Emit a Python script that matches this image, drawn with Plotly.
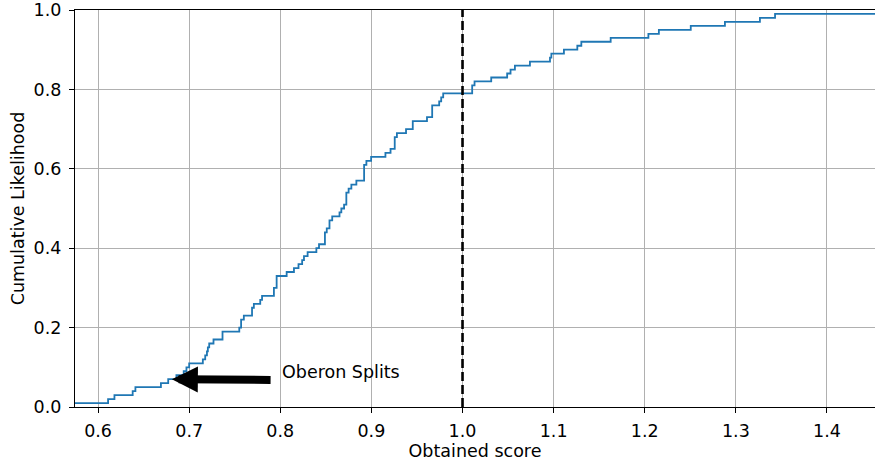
import plotly.graph_objects as go

# Step locations (obtained score) and cumulative likelihood level after each step
scores = [0.560, 0.611, 0.618, 0.638, 0.641, 0.669, 0.677, 0.686, 0.694, 0.697,
          0.700, 0.715, 0.7176, 0.7195, 0.7205, 0.722, 0.7267, 0.7366, 0.755, 0.757,
          0.760, 0.769, 0.771, 0.778, 0.780, 0.793, 0.796, 0.807, 0.815, 0.820,
          0.824, 0.826, 0.830, 0.8396, 0.8425, 0.849, 0.851, 0.854, 0.857, 0.865,
          0.867, 0.870, 0.8725, 0.875, 0.878, 0.8835, 0.892, 0.8945, 0.8997, 0.9154,
          0.921, 0.9256, 0.928, 0.938, 0.9454, 0.961, 0.9667, 0.9744, 0.9766, 0.9788,
          1.0106, 1.0132, 1.0315, 1.049, 1.0527, 1.0575, 1.074, 1.096, 1.0975, 1.1113,
          1.126, 1.1304, 1.1626, 1.2040, 1.2155, 1.2505, 1.288, 1.3264, 1.343, 1.470]
likelihood = [0.01, 0.02, 0.03, 0.04, 0.05, 0.06, 0.07, 0.08, 0.09, 0.10,
              0.11, 0.12, 0.13, 0.14, 0.15, 0.16, 0.17, 0.19, 0.20, 0.22,
              0.23, 0.25, 0.26, 0.27, 0.28, 0.30, 0.33, 0.34, 0.35, 0.36,
              0.37, 0.38, 0.39, 0.40, 0.41, 0.44, 0.45, 0.47, 0.48, 0.49,
              0.50, 0.51, 0.54, 0.55, 0.56, 0.57, 0.61, 0.62, 0.63, 0.64,
              0.65, 0.68, 0.69, 0.70, 0.72, 0.73, 0.76, 0.77, 0.78, 0.79,
              0.81, 0.82, 0.83, 0.84, 0.85, 0.86, 0.87, 0.88, 0.89, 0.90,
              0.91, 0.92, 0.93, 0.94, 0.95, 0.96, 0.97, 0.98, 0.99, 0.99]

x_ticks = [0.6, 0.7, 0.8, 0.9, 1.0, 1.1, 1.2, 1.3, 1.4]
y_ticks = [0.0, 0.2, 0.4, 0.6, 0.8, 1.0]
reference_score = 1.0
annot_text = "Oberon Splits"
annot_head = (0.681, 0.070)
annot_tail = (0.791, 0.068)
annot_text_pos = (0.800, 0.088)

font = "DejaVu Sans, Liberation Sans, sans-serif"
FS = 17.5

fig = go.Figure()
fig.add_trace(go.Scatter(
    x=scores, y=likelihood, mode="lines", line_shape="hv",
    line=dict(color="#1f77b4", width=1.8), showlegend=False, hoverinfo="skip"))

fig.add_shape(type="line", x0=reference_score, x1=reference_score, xref="x",
              y0=0, y1=1, yref="paper",
              line=dict(color="black", width=2.6, dash="9px,4px"))

fig.add_annotation(x=annot_head[0], y=annot_head[1], ax=annot_tail[0], ay=annot_tail[1],
                   xref="x", yref="y", axref="x", ayref="y", text="",
                   showarrow=True, arrowhead=2, arrowsize=0.65, arrowwidth=8,
                   arrowcolor="black", standoff=0, startstandoff=0)
fig.add_annotation(x=annot_text_pos[0], y=annot_text_pos[1], xref="x", yref="y",
                   text=annot_text, showarrow=False, xanchor="left", yanchor="middle",
                   font=dict(family=font, size=FS, color="black"))

axis_common = dict(showgrid=True, gridcolor="#b0b0b0", gridwidth=1.1,
                   showline=True, linecolor="black", linewidth=1.1, mirror=True,
                   ticks="outside", ticklen=5, tickcolor="black", tickwidth=1.1,
                   tickfont=dict(family=font, size=FS, color="black"),
                   zeroline=False, tickformat=".1f", automargin=False,
                   ticklabeloverflow="allow")

fig.update_xaxes(range=[0.5747, 1.4527], tickvals=x_ticks, ticklabelstandoff=3,
                 title=dict(text="Obtained score", font=dict(family=font, size=FS, color="black"),
                            standoff=3), **axis_common)
fig.update_yaxes(range=[0, 1], tickvals=y_ticks, ticklabelstandoff=4,
                 title=dict(text="Cumulative Likelihood", font=dict(family=font, size=FS, color="black"),
                            standoff=4), **axis_common)

fig.update_layout(width=875, height=461, margin=dict(l=75, r=0, t=10, b=54),
                  plot_bgcolor="white", paper_bgcolor="white")

fig.write_html("out.html", config={"displayModeBar": False},
               post_script="document.body.style.margin='0px';")
